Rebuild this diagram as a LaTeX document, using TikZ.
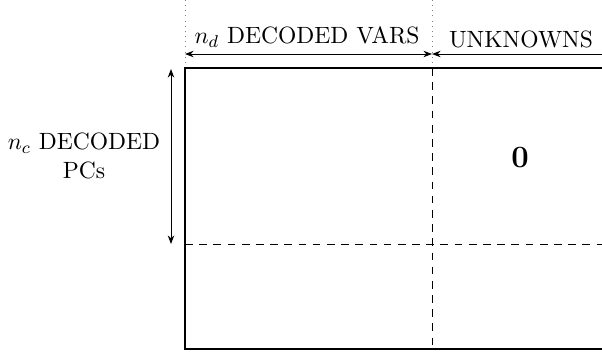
\documentclass[tikz,border=0pt]{standalone}
\usetikzlibrary{arrows.meta}
\begin{document}
\begin{tikzpicture}[x=0.465pt,y=-0.465pt,
  frame/.style={line width=0.8pt},
  split/.style={line width=0.45pt,dash pattern=on 3.6pt off 3pt},
  guide/.style={line width=0.4pt,dotted,gray},
  tip/.tip={Stealth[length=4pt,width=3pt]},
  span/.style={line width=0.45pt,tip-tip},
  lbl/.style={font=\fontsize{10.95pt}{13.2pt}\selectfont,inner sep=0pt}]
  \useasboundingbox (0,0) rectangle (602,356);
  \clip (0,0) rectangle (602,356);
  % corner and grid coordinates of the block matrix
  \coordinate (tl) at (185,68);
  \coordinate (bl) at (185,349);
  \coordinate (tr) at (630,68);
  \coordinate (br) at (630,349);
  \coordinate (mt) at (432,68);
  \coordinate (mb) at (432,349);
  \coordinate (ml) at (185,244);
  \coordinate (mr) at (630,244);
  % guide lines above the columns
  \coordinate (g1) at (185,0);
  \coordinate (g2) at (432,0);
  \draw[guide] (g1) -- (tl);
  \draw[guide] (g2) -- (mt);
  % matrix outline (open to the right)
  \draw[frame] (tr) -- (tl) -- (bl) -- (br);
  % block separators
  \draw[split] (mt) -- (mb);
  \draw[split] (ml) -- (mr);
  % column extent arrows
  \coordinate (a1) at (185,54);
  \coordinate (a2) at (432,54);
  \coordinate (a3) at (630,54);
  \draw[span] (a1) -- (a2);
  \draw[line width=0.45pt,tip-] (a2) -- (a3);
  \node[lbl] (vars) at (307,37) {$n_d$ DECODED VARS};
  \node[lbl] (unk) at (521,39) {UNKNOWNS};
  % row extent arrow
  \coordinate (r1) at (171,69);
  \coordinate (r2) at (171,244);
  \draw[span] (r1) -- (r2);
  \node[lbl,align=center] (pcs) at (84,156) {$n_c$ DECODED\\PCs};
  % zero block
  \node[lbl,font=\Large\bfseries] (zero) at (520,158) {0};
\end{tikzpicture}
\end{document}
